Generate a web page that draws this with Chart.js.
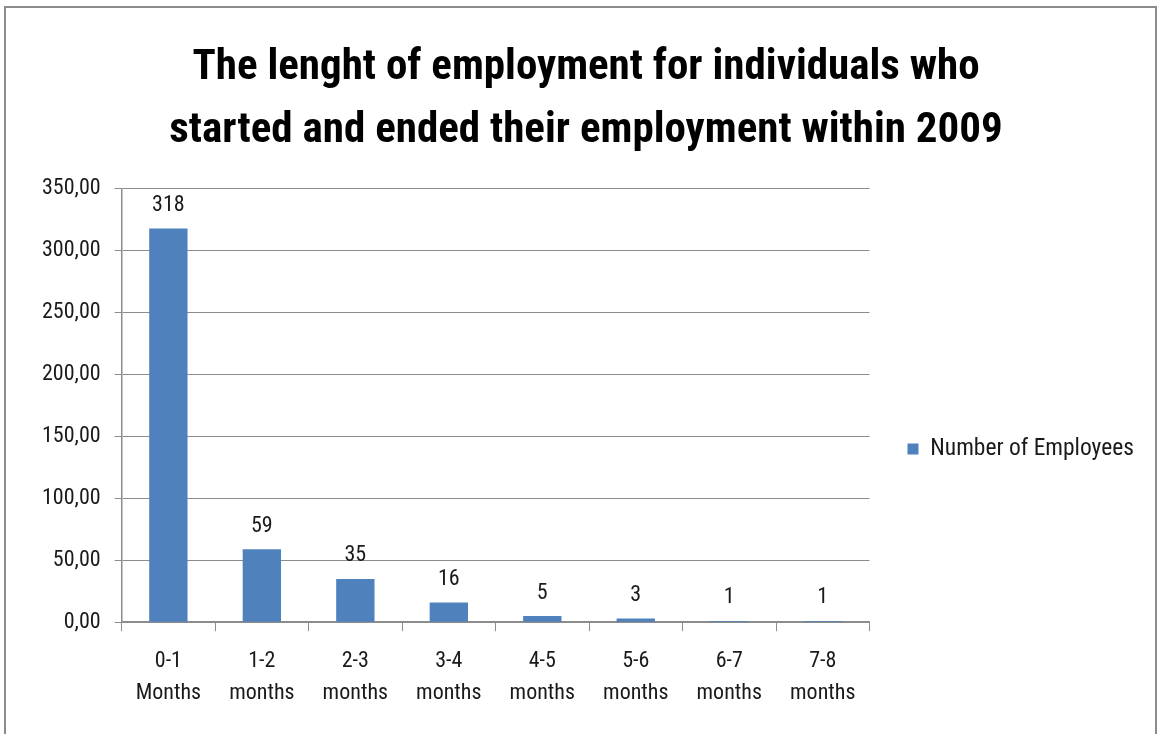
<!DOCTYPE html>
<html>
<head>
<meta charset="utf-8">
<script src="https://cdn.jsdelivr.net/npm/chart.js@4/dist/chart.umd.min.js"></script>
<style>
  body { margin: 0; background: #fff; }
  #frame { position: absolute; left: 4px; top: 6px; width: 1149px; height: 740px;
           border: 2px solid #8c8c8c; border-bottom: none; }
  #wrap { position: absolute; left: 0; top: 0; width: 1157px; height: 734px; }
</style>
</head>
<body>
<div id="frame"></div>
<div id="wrap"><canvas id="myChart" width="1157" height="734"></canvas></div>
<script>
const categories = [
    ['0-1', 'Months'], ['1-2', 'months'], ['2-3', 'months'], ['3-4', 'months'],
    ['4-5', 'months'], ['5-6', 'months'], ['6-7', 'months'], ['7-8', 'months']
];
const employees = [318, 59, 35, 16, 5, 3, 1, 1];
const seriesName = 'Number of Employees';
const titleLines = [
    'The lenght of employment for individuals who',
    'started and ended their employment within 2009'
];
const yMax = 350;
const yStep = 50;

const fontFamily = "'Roboto Condensed', 'Liberation Sans', sans-serif";

/* Etiquetas de valor encima de cada barra */
const valueLabels = {
    id: 'valueLabels',
    afterDatasetsDraw(chart) {
        const ctx = chart.ctx;
        const meta = chart.getDatasetMeta(0);
        ctx.save();
        ctx.font = '22px ' + fontFamily;
        ctx.fillStyle = '#1a1a1a';
        ctx.textAlign = 'center';
        ctx.textBaseline = 'bottom';
        meta.data.forEach((bar, i) => {
            ctx.fillText(String(employees[i]), bar.x, bar.y - 12);
        });
        ctx.restore();
    }
};

const config = {
    type: 'bar',
    data: {
        labels: categories,
        datasets: [{
            label: seriesName,
            data: employees,
            backgroundColor: '#4f81bd',
            borderWidth: 0,
            categoryPercentage: 1,
            barPercentage: 0.41
        }]
    },
    options: {
        responsive: false,
        animation: false,
        layout: { padding: { left: 28, right: 13, top: 37, bottom: 11 } },
        plugins: {
            title: {
                display: true,
                text: titleLines,
                color: '#000',
                font: { family: fontFamily, size: 43, weight: 'bold', lineHeight: 1.465 },
                padding: { top: 0, bottom: 26 }
            },
            legend: {
                position: 'right',
                // título vacío para bajar la leyenda hacia el centro del área
                title: { display: true, text: ' ', font: { size: 10, lineHeight: 1 }, padding: { top: 128, bottom: 0 } },
                labels: {
                    color: '#1a1a1a',
                    font: { family: fontFamily, size: 23.5 },
                    boxWidth: 11,
                    boxHeight: 11,
                    padding: 38
                }
            },
            tooltip: { enabled: false }
        },
        scales: {
            x: {
                offset: true,
                grid: {
                    offset: true,
                    drawOnChartArea: false,
                    drawTicks: true,
                    tickLength: 9,
                    color: '#8c8c8c'
                },
                border: { color: '#8c8c8c', width: 1.5 },
                ticks: {
                    color: '#1a1a1a',
                    font: { family: fontFamily, size: 22, lineHeight: 1.45 },
                    maxRotation: 0,
                    padding: 14
                }
            },
            y: {
                min: 0,
                max: yMax,
                grid: { color: '#8c8c8c', tickLength: 7, lineWidth: 1 },
                border: { color: '#8c8c8c', width: 1.5 },
                ticks: {
                    stepSize: yStep,
                    color: '#1a1a1a',
                    font: { family: fontFamily, size: 22 },
                    padding: 14,
                    callback: (v) => v.toFixed(2).replace('.', ',')
                }
            }
        }
    },
    plugins: [valueLabels]
};

const myChart = new Chart(document.getElementById('myChart'), config);
</script>
</body>
</html>
